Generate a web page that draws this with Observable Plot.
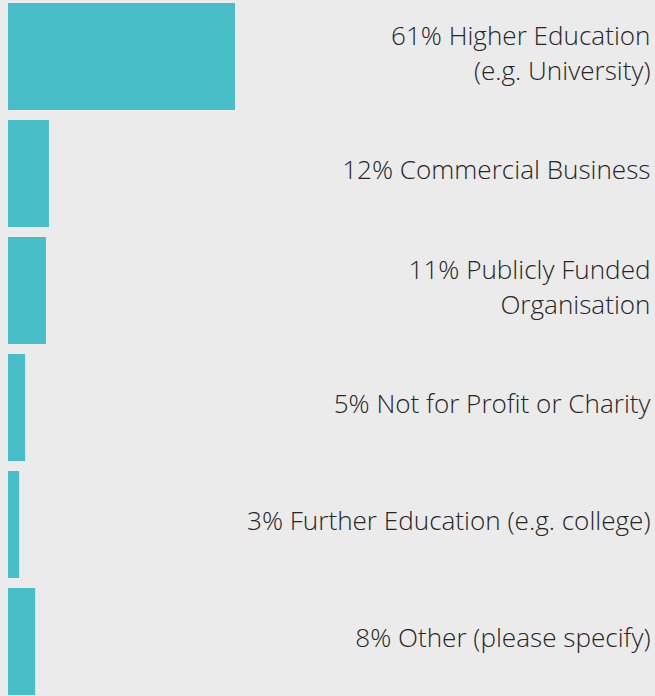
<!DOCTYPE html>
<html>
<head>
<meta charset="utf-8">
<script src="https://cdn.jsdelivr.net/npm/d3@7"></script>
<script src="https://cdn.jsdelivr.net/npm/@observablehq/plot@0.6"></script>
<style>
html,body{margin:0;padding:0;background:#ebebeb;}
#chart svg{display:block;}
</style>
</head>
<body>
<div id="chart"></div>
<script>
const categories = ["Higher Education\n(e.g. University)", "Commercial Business", "Publicly Funded\nOrganisation", "Not for Profit or Charity", "Further Education (e.g. college)", "Other (please specify)"];
// bar lengths (percent)
const barValues = [61, 11, 10.2, 4.6, 3, 7.3];
const labels = ["61% Higher Education\n(e.g. University)", "12% Commercial Business", "11% Publicly Funded\nOrganisation", "5% Not for Profit or Charity", "3% Further Education (e.g. college)", "8% Other (please specify)"];

const data = categories.map((c, i) => ({cat: c, value: barValues[i], label: labels[i]}));

const chart = Plot.plot({
  width: 655,
  height: 696,
  margin: 0,
  style: {background: "#ebebeb", fontFamily: "'Open Sans', sans-serif"},
  x: {domain: [0, 61], range: [8, 235], axis: null},
  y: {domain: categories, range: [2, 696], paddingInner: 0.089, paddingOuter: 0, axis: null},
  marks: [
    Plot.barX(data, {x: "value", y: "cat", fill: "#48bec9"}),
    Plot.text(data, {y: "cat", text: "label", frameAnchor: "right", dx: -5, dy: -6, textAnchor: "end", fontSize: 26.1, fontWeight: 300, lineHeight: 1.34, fill: "#262626"})
  ]
});
document.getElementById("chart").append(chart);
</script>
</body>
</html>
